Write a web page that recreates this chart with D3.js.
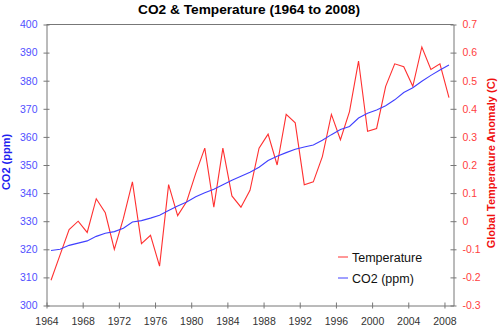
<!DOCTYPE html>
<html>
<head>
<meta charset="utf-8">
<script src="https://cdn.jsdelivr.net/npm/d3@7"></script>
<style>
  body { margin: 0; background: #fff; }
  svg { display: block; font-family: "Liberation Sans", Arial, sans-serif; }
</style>
</head>
<body>
<svg width="500" height="329"></svg>
<script>
var years = [1964, 1965, 1966, 1967, 1968, 1969, 1970, 1971, 1972, 1973,
  1974, 1975, 1976, 1977, 1978, 1979, 1980, 1981, 1982, 1983,
  1984, 1985, 1986, 1987, 1988, 1989, 1990, 1991, 1992, 1993,
  1994, 1995, 1996, 1997, 1998, 1999, 2000, 2001, 2002, 2003,
  2004, 2005, 2006, 2007, 2008];

// annual mean CO2 (ppm)
var co2 = [319.6, 320.0, 321.4, 322.2, 323.0, 324.6, 325.7, 326.3, 327.5, 329.7,
  330.2, 331.1, 332.1, 333.8, 335.4, 336.8, 338.7, 340.1, 341.4, 343.0,
  344.6, 346.0, 347.4, 349.2, 351.6, 353.1, 354.4, 355.6, 356.4, 357.1,
  358.8, 360.8, 362.6, 363.7, 366.7, 368.4, 369.6, 371.1, 373.2, 375.8,
  377.5, 379.8, 381.9, 383.8, 385.6];

// global temperature anomaly (C)
var temp = [-0.21, -0.12, -0.03, 0.00, -0.04, 0.08, 0.03, -0.10, 0.01, 0.14,
  -0.08, -0.05, -0.16, 0.13, 0.02, 0.07, 0.17, 0.26, 0.05, 0.26,
  0.09, 0.05, 0.11, 0.26, 0.31, 0.20, 0.38, 0.35, 0.13, 0.14,
  0.23, 0.38, 0.29, 0.39, 0.57, 0.32, 0.33, 0.48, 0.56, 0.55,
  0.48, 0.62, 0.54, 0.56, 0.44];

var yearTicks = [1964, 1968, 1972, 1976, 1980, 1984, 1988, 1992, 1996, 2000, 2004, 2008];
var co2Ticks = [300, 310, 320, 330, 340, 350, 360, 370, 380, 390, 400];
var tempTicks = [-0.3, -0.2, -0.1, 0, 0.1, 0.2, 0.3, 0.4, 0.5, 0.6, 0.7];

var plotLeft = 46.5, plotRight = 453.5, plotTop = 24.5, plotBottom = 305.5;
var axisColor = "#777";
var blue = "#4040ff", red = "#ff3030";

var svg = d3.select("svg");

var x = d3.scaleLinear().domain([1964, 2009]).range([plotLeft, plotRight]);
var yCo2 = d3.scaleLinear().domain([300, 400]).range([plotBottom, plotTop]);
var yTemp = d3.scaleLinear().domain([-0.3, 0.7]).range([plotBottom, plotTop]);

// top frame line
svg.append("line")
  .attr("x1", plotLeft).attr("x2", plotRight)
  .attr("y1", plotTop).attr("y2", plotTop)
  .attr("stroke", axisColor);

function styleAxis(g, color, inner) {
  g.select(".domain").attr("stroke", axisColor);
  g.selectAll(".tick line").attr("stroke", axisColor);
  g.selectAll(".tick text")
    .attr("fill", color)
    .attr("font-size", "10.5px")
    .attr("font-family", "Liberation Sans, Arial, sans-serif");
  inner(g.selectAll(".tick line"));
}

var xAxis = d3.axisBottom(x).tickValues(yearTicks).tickFormat(d3.format("d"))
  .tickSizeInner(3).tickSizeOuter(0).tickPadding(9);
svg.append("g")
  .attr("transform", "translate(0," + plotBottom + ")")
  .call(xAxis)
  .call(function(g) { styleAxis(g, "#333", function(l) { l.attr("y1", -3); }); });

var leftAxis = d3.axisLeft(yCo2).tickValues(co2Ticks).tickFormat(d3.format("d"))
  .tickSizeInner(3).tickSizeOuter(0).tickPadding(6);
svg.append("g")
  .attr("transform", "translate(" + plotLeft + ",0)")
  .call(leftAxis)
  .call(function(g) { styleAxis(g, "#5050ff", function(l) { l.attr("x1", 3); }); });

function fmtTemp(d) {
  if (d === 0) return "0";
  return (d < 0 ? "-" : "") + Math.abs(d).toFixed(1);
}
var rightAxis = d3.axisRight(yTemp).tickValues(tempTicks).tickFormat(fmtTemp)
  .tickSizeInner(3).tickSizeOuter(0).tickPadding(6);
svg.append("g")
  .attr("transform", "translate(" + plotRight + ",0)")
  .call(rightAxis)
  .call(function(g) { styleAxis(g, "#ff4040", function(l) { l.attr("x1", -3); }); });

// series
var co2Line = d3.line()
  .x(function(d, i) { return x(years[i] + 0.5); })
  .y(function(d) { return yCo2(d); });
var tempLine = d3.line()
  .x(function(d, i) { return x(years[i] + 0.5); })
  .y(function(d) { return yTemp(d); });

svg.append("path").datum(temp)
  .attr("d", tempLine)
  .attr("fill", "none").attr("stroke", red).attr("stroke-width", 1.1);
svg.append("path").datum(co2)
  .attr("d", co2Line)
  .attr("fill", "none").attr("stroke", blue).attr("stroke-width", 1.1);

// title
svg.append("text")
  .attr("x", 249).attr("y", 14)
  .attr("text-anchor", "middle")
  .attr("font-size", "13.7px").attr("font-weight", "bold")
  .text("CO2 & Temperature (1964 to 2008)");

// axis titles
svg.append("text")
  .attr("transform", "translate(10,162) rotate(-90)")
  .attr("text-anchor", "middle")
  .attr("font-size", "11px").attr("font-weight", "bold")
  .attr("fill", "#2020f0")
  .text("CO2 (ppm)");
svg.append("text")
  .attr("transform", "translate(495,163) rotate(-90)")
  .attr("text-anchor", "middle")
  .attr("font-size", "11px").attr("font-weight", "bold")
  .attr("fill", "#f01010")
  .text("Global Temperature Anomaly (C)");

// legend
var legend = [
  { name: "Temperature", color: red, y: 257 },
  { name: "CO2 (ppm)", color: blue, y: 278 }
];
var lg = svg.append("g").selectAll("g").data(legend).enter().append("g");
lg.append("line")
  .attr("x1", 338).attr("x2", 348)
  .attr("y1", function(d) { return d.y; }).attr("y2", function(d) { return d.y; })
  .attr("stroke", function(d) { return d.color; });
lg.append("text")
  .attr("x", 352).attr("y", function(d) { return d.y + 4.5; })
  .attr("font-size", "12.5px")
  .attr("fill", "#111")
  .text(function(d) { return d.name; });
</script>
</body>
</html>
